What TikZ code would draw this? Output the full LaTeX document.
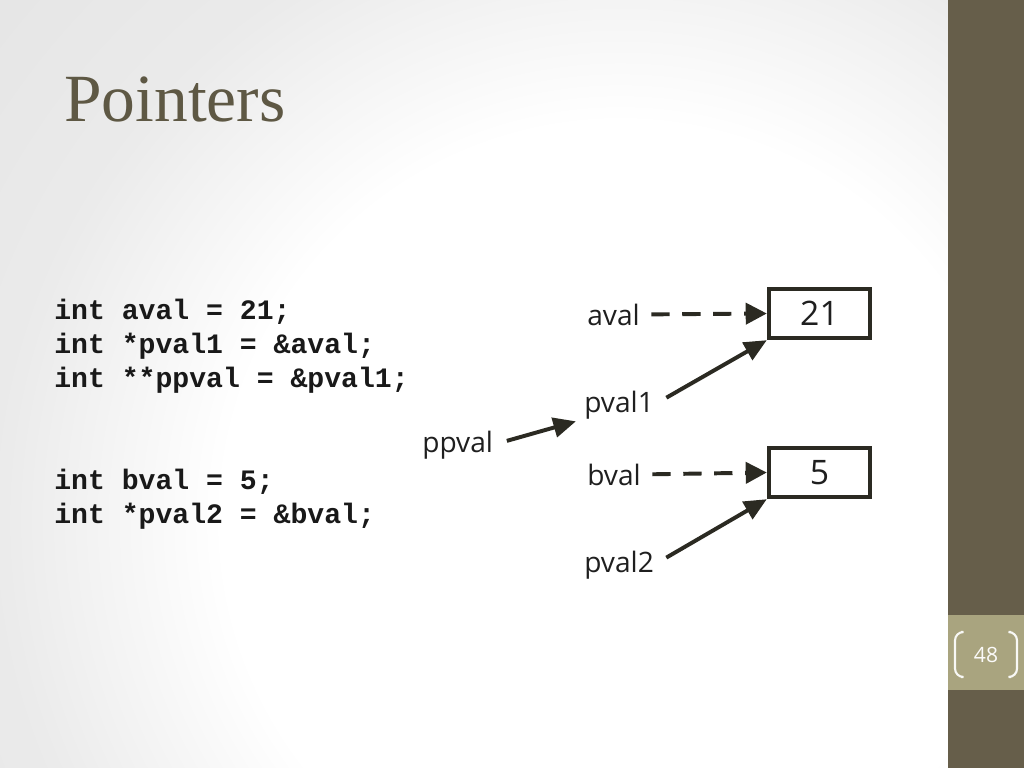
\documentclass[tikz,border=0pt]{standalone}
\usepackage{fontspec}
\setmainfont{Open Sans}
\setmonofont{Liberation Mono}
\newfontfamily\titlefont{Liberation Serif}
\usetikzlibrary{arrows.meta,shadows}

\definecolor{sidebar}{HTML}{665E4A}
\definecolor{pagebox}{HTML}{A9A47F}
\definecolor{titlecol}{HTML}{5E5844}
\definecolor{inkcol}{HTML}{2B2A22}
\pgfdeclareradialshading{slidebg}{\pgfpoint{0bp}{0bp}}{color(0bp)=(white); color(16bp)=(white); color(25bp)=(black!8); color(37bp)=(black!11); color(50bp)=(black!11)}

\tikzset{
	code/.style={anchor=base west, inner sep=0pt, font=\ttfamily\bfseries\fontsize{20}{24}\selectfont, text=black!90},
	varname/.style={anchor=base west, inner sep=0pt, font=\fontsize{20}{24}\selectfont, text=black!88},
	cell/.style={draw=inkcol, line width=2.7pt, fill=white, minimum width=2.54cm, minimum height=1.24cm, font=\fontsize{24}{28}\selectfont, text=black!88, drop shadow={shadow xshift=1.5pt, shadow yshift=-1.5pt, opacity=0.35}},
	dasharrow/.style={draw=inkcol, line width=2.8pt, dash pattern=on 13pt off 9pt, -{Triangle[length=15pt,width=15pt]}, shorten <=8pt},
	ptrarrow/.style={draw=inkcol, line width=2.8pt, -{Triangle[length=16pt,width=14pt]}, shorten <=10pt}
}

\begin{document}
\begin{tikzpicture}[x=0.025cm, y=-0.025cm]
				\useasboundingbox (0,0) rectangle (1024,768);
				\shade[shading=slidebg] (0,-100) rectangle (1240,1140);
				\fill[sidebar] (948,0) rectangle (1024,768);
				\fill[pagebox] (948,615) rectangle (1024,690);
				
				\node[anchor=base west, inner sep=0pt, font=\titlefont\fontsize{48}{56}\selectfont, text=titlecol] (title) at (64,122) {Pointers};
				
				% code
				\node[code] (line1) at (54,319) {int aval = 21;};
				\node[code] (line2) at (54,353) {int *pval1 = \&aval;};
				\node[code] (line3) at (54,387) {int **ppval = \&pval1;};
				\node[code] (line4) at (54,489) {int bval = 5;};
				\node[code] (line5) at (54,523) {int *pval2 = \&bval;};
				
				% memory cells
				\node[cell] (box21) at (819.5,313.5) {21};
				\node[cell] (box5) at (819.5,472.5) {5};
				
				\node[varname] (aval) at (587,325) {aval};
				\node[varname] (pval1) at (584,412) {pval1};
				\node[varname] (ppval) at (422,452) {ppval};
				\node[varname] (bval) at (587,485) {bval};
				\node[varname] (pval2) at (584,572) {pval2};
				
				\draw[dasharrow] (aval.east) -- (box21.west);
				\draw[dasharrow] (bval.east) -- (box5.west);
				\draw[ptrarrow] (pval1.east) -- (box21.south west);
				\draw[ptrarrow] (pval2.east) -- (box5.south west);
				\draw[ptrarrow, shorten >=6pt] (ppval.east) -- (pval1.south west);
				
				% page number
				\node[font=\fontsize{15}{18}\selectfont, text=white!95!pagebox] (pagenum) at (986,655) {48};
				\draw[white!92!pagebox, line width=1.5pt, rounded corners=6pt] (961,632) -- (955,632) -- (955,677) -- (961,677);
				\draw[white!92!pagebox, line width=1.5pt, rounded corners=6pt] (1011,632) -- (1017,632) -- (1017,677) -- (1011,677);
			\end{tikzpicture}
\end{document}
